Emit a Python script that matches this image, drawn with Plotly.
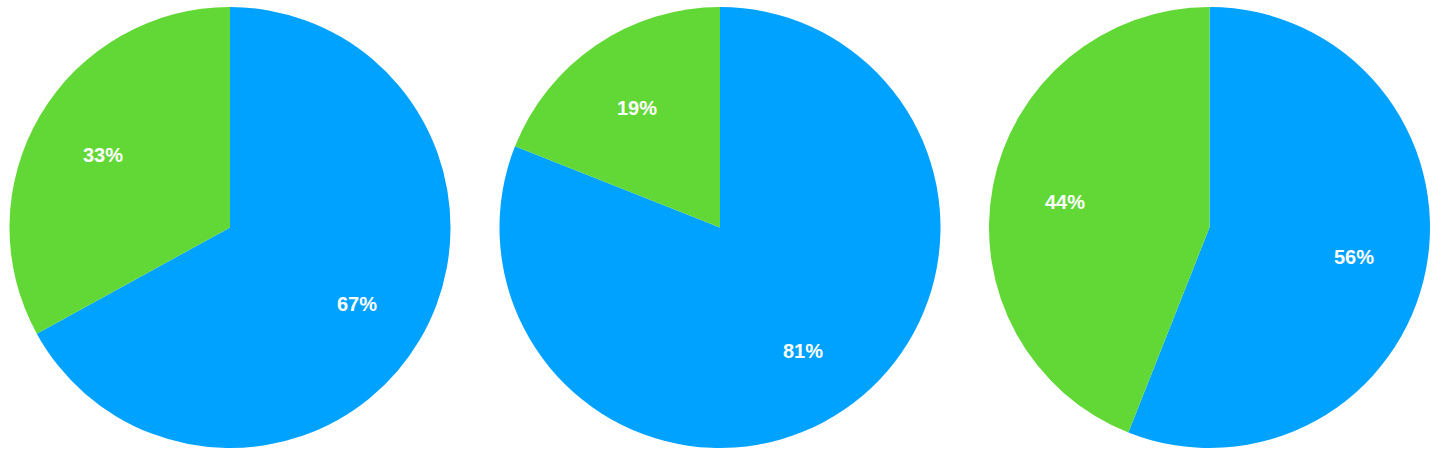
import math
import plotly.graph_objects as go

labels = ["Blue", "Green"]
values_1 = [67, 33]
values_2 = [81, 19]
values_3 = [56, 44]
colors = ["#00A2FF", "#61D836"]

W, H = 1445, 473
centers_x = [230, 720, 1209.5]
center_y = 227.5
radius = 220.5
label_frac = 0.667

fig = go.Figure()
annotations = []
for vals, cx in zip([values_1, values_2, values_3], centers_x):
    fig.add_trace(go.Pie(
        labels=labels, values=vals, sort=False, direction="clockwise", rotation=0,
        marker=dict(colors=colors, line=dict(width=0)),
        textinfo="none",
        hoverinfo="label+percent",
        domain=dict(x=[(cx - radius) / W, (cx + radius) / W],
                    y=[1 - (center_y + radius) / H, 1 - (center_y - radius) / H]),
        showlegend=False,
    ))
    total = sum(vals)
    start = 0.0
    for v in vals:
        frac = v / total
        mid = (start + frac / 2) * 2 * math.pi
        px = cx + label_frac * radius * math.sin(mid)
        py = center_y - label_frac * radius * math.cos(mid)
        annotations.append(dict(
            x=px / W, y=1 - py / H, xref="paper", yref="paper",
            xanchor="center", yanchor="middle", showarrow=False, yshift=-2,
            text=f"{round(frac * 100)}%",
            font=dict(family="Liberation Sans, Arial, sans-serif", size=20, color="white", weight="bold"),
        ))
        start += frac

fig.update_layout(width=W, height=H, margin=dict(l=0, r=0, t=0, b=0),
                  paper_bgcolor="white", plot_bgcolor="white", annotations=annotations)
fig.write_html("out.html", config={"displayModeBar": False},
               post_script="document.body.style.margin='0';")
